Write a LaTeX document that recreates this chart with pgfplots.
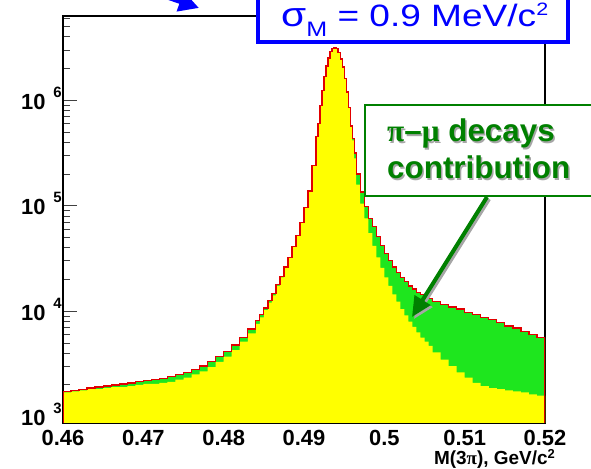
\documentclass[border=0pt]{standalone}
\usepackage{pgfplots}
\pgfplotsset{compat=1.18}
\usepackage{fontspec}
\usepackage{graphicx}
\setmainfont{Liberation Sans}
\newfontfamily\sergreek{Liberation Serif}
\usetikzlibrary{arrows.meta}
\definecolor{histyellow}{RGB}{255,255,0}
\definecolor{histgreen}{RGB}{30,230,30}
\definecolor{boxgreen}{RGB}{0,128,0}
\definecolor{histred}{RGB}{225,0,0}
\newcommand{\ylab}[1]{\textbf{10}\hspace{8bp}\raisebox{12bp}{\fontsize{15}{15}\selectfont\textbf{#1}}}
\pgfplotstableread{
x T
0.460 1738
0.461 1778
0.462 1820
0.463 1862
0.464 1905
0.465 1950
0.466 1995
0.467 2042
0.468 2089
0.469 2138
0.470 2188
0.471 2239
0.472 2291
0.473 2399
0.474 2512
0.475 2630
0.476 2818
0.477 3020
0.478 3311
0.479 3715
0.480 4169
0.481 4786
0.482 5623
0.483 6761
0.4840 8128
0.4845 9333
0.4850 10720
0.4855 12590
0.4860 14790
0.4865 17780
0.4870 21380
0.4875 26300
0.4880 32360
0.4885 40740
0.4890 52480
0.4895 69180
0.4900 95500
0.4905 138000
0.4910 239900
0.4915 450000
0.49175 600000
0.4920 890000
0.49225 1240000
0.4925 1680000
0.49275 2120000
0.4930 2512000
0.49325 2884000
0.4935 3090000
0.49375 3162000
0.4940 3090000
0.49425 2818000
0.4945 2455000
0.49475 2070000
0.4950 1600000
0.49525 1200000
0.4955 850000
0.49575 570000
0.4960 436500
0.49625 316200
0.4965 199500
0.4970 134900
0.4975 97720
0.4980 75860
0.4985 63100
0.4990 51290
0.4995 41690
0.5000 35480
0.5005 30200
0.5010 26300
0.5015 23440
0.5020 20890
0.5025 19050
0.5030 17380
0.5035 16220
0.5040 15140
0.5045 14450
0.5050 13800
0.5055 13180
0.506 12300
0.507 11480
0.508 10960
0.509 10470
0.510 9772
0.511 9333
0.512 8710
0.513 8318
0.514 7762
0.515 7244
0.516 6918
0.517 6457
0.518 6026
0.519 5623
0.520 5623
}\totaltab
\pgfplotstableread{
x Y
0.460 1698
0.461 1738
0.462 1778
0.463 1820
0.464 1820
0.465 1862
0.466 1905
0.467 1905
0.468 1950
0.469 1995
0.470 2042
0.471 2042
0.472 2089
0.473 2138
0.474 2239
0.475 2344
0.476 2512
0.477 2692
0.478 2951
0.479 3311
0.480 3715
0.481 4266
0.482 5129
0.483 6166
0.4840 7586
0.4845 8710
0.4850 10230
0.4855 12020
0.4860 14130
0.4865 17380
0.4870 20890
0.4875 25700
0.4880 32360
0.4885 40740
0.4890 52480
0.4895 69180
0.4900 95500
0.4905 138000
0.4910 239900
0.4915 450000
0.49175 600000
0.4920 890000
0.49225 1240000
0.4925 1680000
0.49275 2120000
0.4930 2512000
0.49325 2884000
0.4935 3090000
0.49375 3162000
0.4940 3090000
0.49425 2818000
0.4945 2455000
0.49475 2070000
0.4950 1600000
0.49525 1200000
0.4955 850000
0.49575 570000
0.4960 416900
0.49625 281800
0.4965 158500
0.4970 104700
0.4975 75860
0.4980 54950
0.4985 41690
0.4990 32360
0.4995 25700
0.5000 20890
0.5005 17380
0.5010 14450
0.5015 12300
0.5020 10470
0.5025 9120
0.5030 7943
0.5035 7079
0.5040 6310
0.5045 5623
0.5050 5129
0.5055 4677
0.506 4074
0.507 3467
0.508 3020
0.509 2630
0.510 2344
0.511 2089
0.512 1950
0.513 1862
0.514 1820
0.515 1778
0.516 1738
0.517 1698
0.518 1622
0.519 1585
0.520 1585
}\yellowtab
\begin{document}
\begin{tikzpicture}[x=1bp,y=1bp]
\useasboundingbox (0,0) rectangle (591,469);
\clip (0,0) rectangle (591,469);
\begin{axis}[at={(63bp,46bp)}, anchor=south west, scale only axis,
  width=482bp, height=407bp,
  xmin=0.46, xmax=0.52, ymode=log, ymin=870, ymax=6.3e6,
  axis line style={line width=1.6bp},
  xtick={0.46,0.47,0.48,0.49,0.5,0.51,0.52},
  xticklabels={0.46,0.47,0.48,0.49,0.5,0.51,0.52},
  xtick style={draw=none},
  xticklabel style={font=\bfseries\fontsize{22}{22}\selectfont, inner sep=0pt, anchor=north, yshift=-7bp},
  ytick={1000,10000,100000,1000000},
  yticklabels={\ylab{3},\ylab{4},\ylab{5},\ylab{6}},
  minor ytick={2000,3000,4000,5000,6000,7000,8000,9000,20000,30000,40000,50000,60000,70000,80000,90000,200000,300000,400000,500000,600000,700000,800000,900000,2000000,3000000,4000000,5000000,6000000},
  ytick pos=left, tick align=inside,
  major tick length=14bp, minor tick length=7bp,
  ytick style={line width=0.8bp, color=black!75},
  yticklabel style={font=\fontsize{22}{22}\selectfont, anchor=base east, inner sep=0pt, xshift=-1bp, yshift=-9bp},
]
\addplot[const plot, fill=histgreen, draw=none] table[x=x, y=T] {\totaltab} \closedcycle;
\addplot[const plot, fill=histyellow, draw=none] table[x=x, y=Y] {\yellowtab} \closedcycle;
\addplot[const plot, draw=histred, line width=1.3bp] table[x=x, y=T] {\totaltab} \closedcycle;
\end{axis}
% x axis title
\node[anchor=base east, inner sep=0pt] at (555,4.5) {\bfseries\fontsize{19}{19}\selectfont M(3{\sergreek\bfseries π}), GeV/c\raisebox{6bp}{\fontsize{13}{13}\selectfont 2}};
% blue box
\draw[blue, line width=3.5bp, fill=white] (258,427) rectangle (568,480);
\node[anchor=base west, inner sep=0pt, text=blue] at (281,442) {\scalebox{1.2}[1]{\fontsize{31}{31}\selectfont {\fontsize{34}{34}\selectfont σ}\raisebox{-10bp}{\fontsize{21}{21}\selectfont M} = 0.9 MeV/c\raisebox{11bp}{\fontsize{18}{18}\selectfont 2}}};
% blue arrow (cut off)
\draw[blue, line width=5bp, -{Triangle[length=20bp,width=20bp]}] (110,492) -- (199,461);
% green box
\draw[boxgreen, line width=2bp, fill=white] (365,273) rectangle (600,364);
\node[anchor=base west, inner sep=0pt, text=black!35] at (388.5,325.5) {\bfseries\fontsize{31.5}{31.5}\selectfont{\sergreek\bfseries π}–{\sergreek\bfseries μ} decays};
\node[anchor=base west, inner sep=0pt, text=boxgreen] at (387,327) {\bfseries\fontsize{31.5}{31.5}\selectfont{\sergreek\bfseries π}–{\sergreek\bfseries μ} decays};
\node[anchor=base west, inner sep=0pt, text=black!35] at (388.5,288.5) {\bfseries\fontsize{31.5}{31.5}\selectfont contribution};
\node[anchor=base west, inner sep=0pt, text=boxgreen] at (387,290) {\bfseries\fontsize{31.5}{31.5}\selectfont contribution};
% green arrow
\draw[black!35, line width=4bp, -{Triangle[length=20bp,width=18bp]}] (489,270) -- (414,150);
\draw[boxgreen, line width=4bp, -{Triangle[length=20bp,width=18bp]}] (487,272) -- (412,152);
\end{tikzpicture}
\end{document}
